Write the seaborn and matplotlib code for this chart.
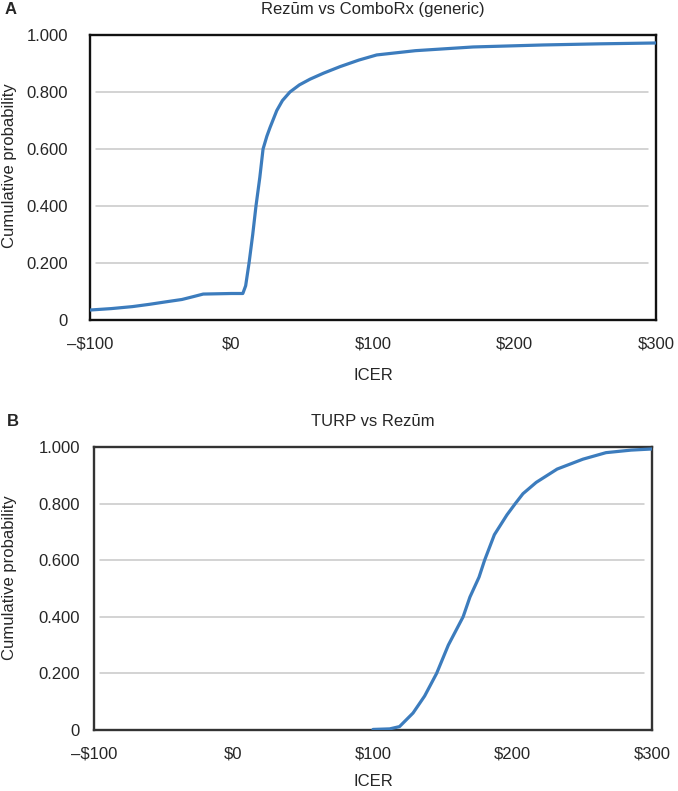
import matplotlib
matplotlib.use("Agg")
import matplotlib.pyplot as plt
import seaborn as sns
import pandas as pd

# ---- data ----
icer_a = [-100, -85, -70, -58, -46, -35, -27, -20, 0, 8, 10, 12.4, 15, 17.3, 20,
          22.3, 25, 27.2, 30, 32, 36, 41.3, 48, 55.5, 65, 76.7, 90, 102.6, 130,
          170.7, 220, 260, 300]
prob_a = [0.035, 0.040, 0.047, 0.055, 0.064, 0.072, 0.082, 0.091, 0.093, 0.093,
          0.12, 0.20, 0.30, 0.40, 0.50, 0.60, 0.645, 0.675, 0.71, 0.735, 0.77,
          0.80, 0.825, 0.845, 0.866, 0.889, 0.912, 0.930, 0.945, 0.958, 0.965,
          0.969, 0.972]

icer_b = [100, 112, 119, 128.7, 137, 145.6, 154, 164.6, 169.5, 176, 180, 187,
          196, 202, 207.5, 217, 232, 250.5, 267, 285, 300]
prob_b = [0.002, 0.004, 0.012, 0.06, 0.12, 0.20, 0.30, 0.40, 0.47, 0.54, 0.60,
          0.69, 0.76, 0.80, 0.835, 0.875, 0.922, 0.957, 0.980, 0.989, 0.993]

x_ticks = [-100, 0, 100, 200, 300]
x_labels = ["\u2013$100", "$0", "$100", "$200", "$300"]
y_ticks = [0, 0.2, 0.4, 0.6, 0.8, 1.0]
y_labels = ["0", "0.200", "0.400", "0.600", "0.800", "1.000"]

titles = ["Rez\u016bm vs ComboRx (generic)", "TURP vs Rez\u016bm"]
panel_letters = ["A", "B"]

sns.set_style("white")
plt.rcParams["font.family"] = ["Liberation Sans", "DejaVu Sans"]

fig = plt.figure(figsize=(6.78, 7.91), dpi=100)
W, H = 678, 791


def add_ax(left, top, right, bottom):
    return fig.add_axes([left / W, 1 - bottom / H, (right - left) / W, (bottom - top) / H])


ax_a = add_ax(90, 35, 656, 320)
ax_b = add_ax(94, 447, 652, 730)

line_color = "#3c7cbd"
frames = [pd.DataFrame({"ICER": icer_a, "p": prob_a}),
          pd.DataFrame({"ICER": icer_b, "p": prob_b})]
ypads = [16, 10]
xlabelpads = [12, 9]
ylab_x = [(17 - 90) / 566, (17 - 94) / 558]

for i, (ax, df) in enumerate(zip([ax_a, ax_b], frames)):
    for yv in [0.2, 0.4, 0.6, 0.8]:
        ax.axhline(yv, color="#c8c8c8", lw=1.1, zorder=0, xmin=0.01, xmax=0.985)
    sns.lineplot(data=df, x="ICER", y="p", ax=ax, color=line_color,
                 linewidth=2.3, zorder=3)
    ax.set_xlim(-100, 300)
    ax.set_ylim(0, 1.0)
    ax.set_xticks(x_ticks)
    ax.set_xticklabels(x_labels, fontsize=12)
    ax.set_yticks(y_ticks)
    ax.set_yticklabels(y_labels, fontsize=12)
    ax.tick_params(axis="both", length=0)
    ax.tick_params(axis="y", pad=ypads[i])
    ax.tick_params(axis="x", pad=12)
    ax.set_xlabel("ICER", fontsize=12, labelpad=xlabelpads[i])
    ax.set_ylabel("Cumulative probability", fontsize=12)
    ax.yaxis.set_label_coords(ylab_x[i], 0.54)
    ax.set_title(titles[i], fontsize=12, pad=15)
    ax.grid(False)
    for s in ax.spines.values():
        s.set_visible(True)
        s.set_color("#111111" if i == 0 else "#333333")
        s.set_linewidth(1.7)

fig.text(5 / W, 1 - 9 / H, panel_letters[0], fontsize=12, fontweight="bold",
         va="center", ha="left")
fig.text(7 / W, 1 - 421 / H, panel_letters[1], fontsize=12, fontweight="bold",
         va="center", ha="left")

fig.savefig("out.png", dpi=100)
